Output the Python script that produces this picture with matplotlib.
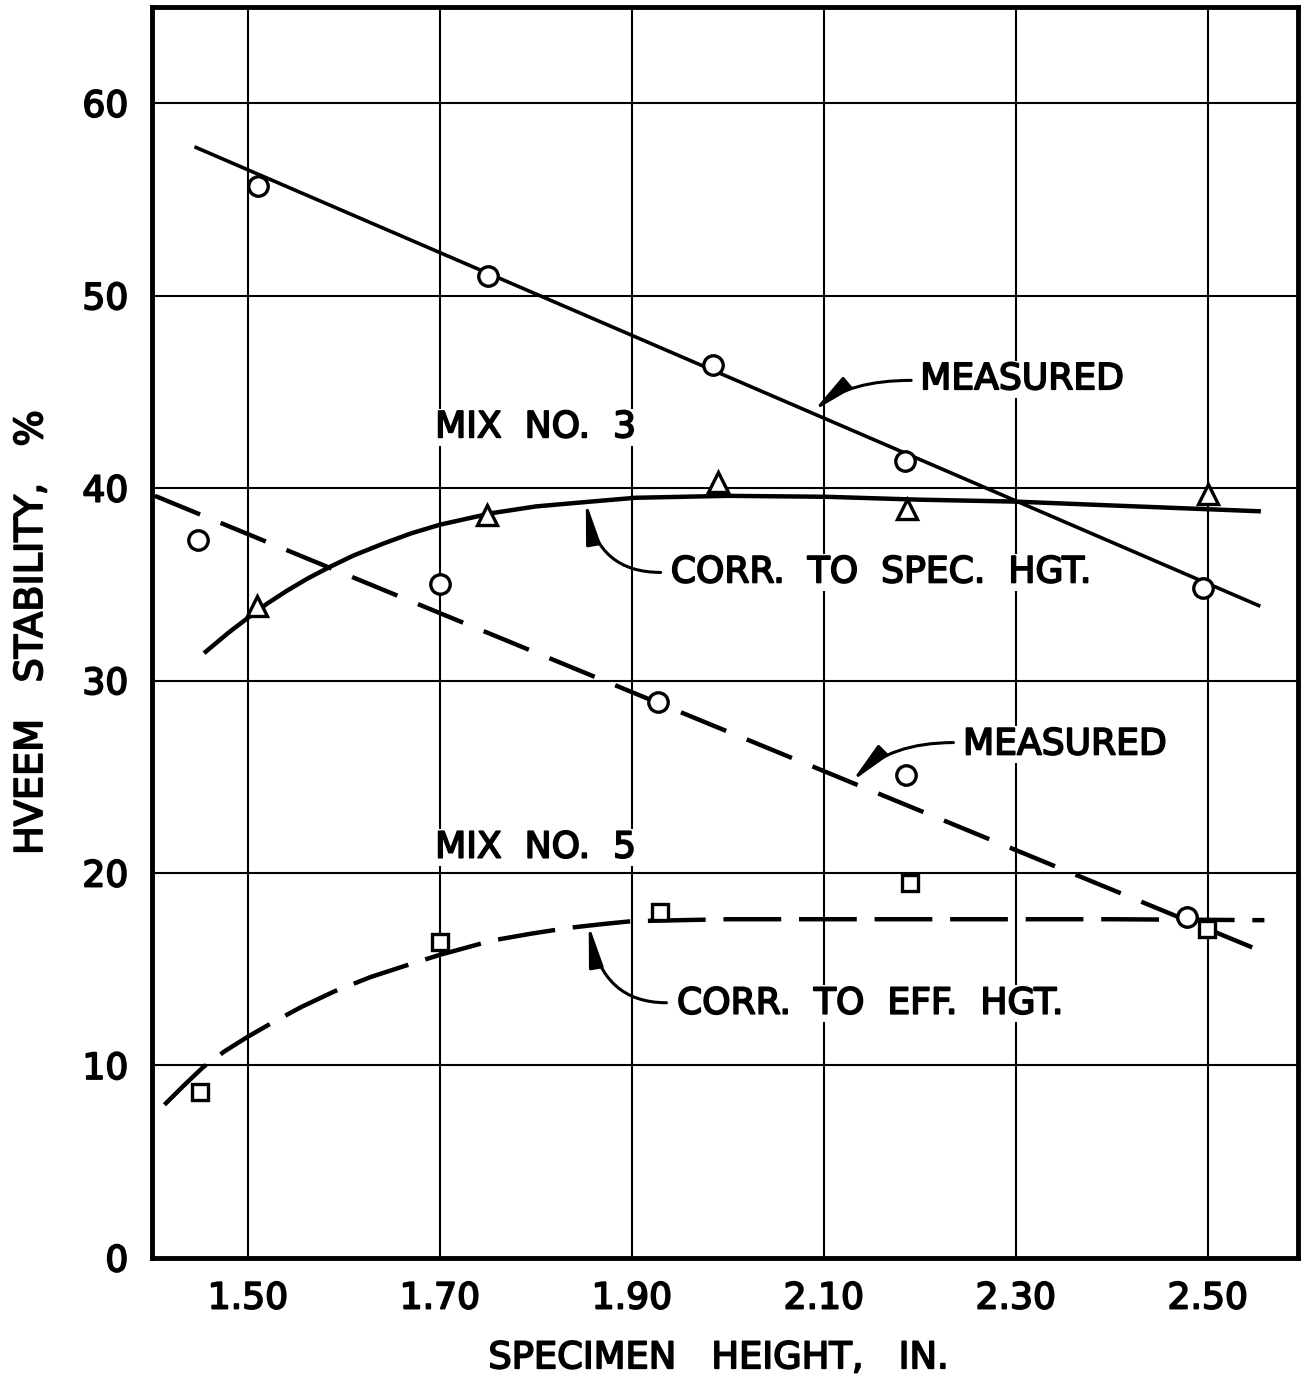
import matplotlib
matplotlib.use("Agg")
import matplotlib.pyplot as plt
import matplotlib.patheffects as pe

# Mix No. 3 -- measured stability (open circles) and its fitted straight line
mix3_meas_x = [1.510, 1.750, 1.985, 2.185, 2.495]
mix3_meas_y = [55.7, 51.0, 46.4, 41.4, 34.8]
mix3_meas_line_x = [1.446, 2.553]
mix3_meas_line_y = [57.7, 33.9]

# Mix No. 3 -- corrected to specimen height (triangles) and the drawn curve
mix3_corr_x = [1.509, 1.749, 1.990, 2.187, 2.500]
mix3_corr_y = [33.9, 38.6, 40.3, 38.9, 39.7]
mix3_curve_x = [1.456, 1.480, 1.501, 1.520, 1.540, 1.562, 1.585, 1.610, 1.640,
                1.670, 1.700, 1.727, 1.754, 1.800, 1.857, 1.904, 2.000,
                2.103, 2.200, 2.300, 2.400, 2.553]
mix3_curve_y = [31.5, 32.5, 33.3, 34.0, 34.65, 35.3, 35.9, 36.5, 37.1,
                37.65, 38.1, 38.4, 38.7, 39.05, 39.3, 39.5, 39.6,
                39.55, 39.4, 39.3, 39.1, 38.8]

# Mix No. 5 -- measured stability (open circles) and its dashed line
mix5_meas_x = [1.448, 1.700, 1.927, 2.186, 2.478]
mix5_meas_y = [37.3, 35.0, 28.9, 25.1, 17.7]
mix5_meas_line_x = [1.403, 2.553]
mix5_meas_line_y = [39.6, 16.0]

# Mix No. 5 -- corrected to effective height (squares) and the dashed curve
mix5_corr_x = [1.450, 1.700, 1.929, 2.190, 2.499]
mix5_corr_y = [8.6, 16.4, 17.95, 19.5, 17.1]
mix5_curve_x = [1.413, 1.433, 1.453, 1.476, 1.500, 1.528, 1.556, 1.590, 1.628,
                1.665, 1.700, 1.755, 1.795, 1.834, 1.870, 1.900, 2.000,
                2.200, 2.400, 2.559]
mix5_curve_y = [7.96, 8.95, 9.9, 10.75, 11.5, 12.3, 13.05, 13.85, 14.6,
                15.2, 15.75, 16.5, 16.85, 17.15, 17.35, 17.5, 17.6,
                17.6, 17.6, 17.55]

x_ticks = [1.50, 1.70, 1.90, 2.10, 2.30, 2.50]
x_tick_labels = ["1.50", "1.70", "1.90", "2.10", "2.30", "2.50"]
y_ticks = [0, 10, 20, 30, 40, 50, 60]

plt.rcParams['font.family'] = 'DejaVu Sans'
plt.rcParams['font.size'] = 26

# thicken the lettering a little, like the drafted originals
heavy = [pe.withStroke(linewidth=1.3, foreground='black')]

fig = plt.figure(figsize=(13.09, 13.76), dpi=100)
ax = fig.add_axes([0.1161, 0.0858, 0.8755, 0.9091])

ax.set_xlim(1.40, 2.594)
ax.set_ylim(0, 65)

ax.set_xticks(x_ticks)
ax.set_xticklabels(x_tick_labels)
ax.set_yticks(y_ticks)
ax.tick_params(length=0, pad=17, labelsize=26)
for lab in ax.get_xticklabels() + ax.get_yticklabels():
    lab.set_path_effects(heavy)

ax.set_axisbelow(True)
ax.grid(True, color='black', lw=1.5)
for s in ax.spines.values():
    s.set_linewidth(3.5)

# data lines
ax.plot(mix3_meas_line_x, mix3_meas_line_y, color='black', lw=2.6, zorder=3)
ax.plot(mix3_curve_x, mix3_curve_y, color='black', lw=3.2, zorder=3)
ax.plot(mix5_meas_line_x, mix5_meas_line_y, color='black', lw=3.2,
        dashes=(11, 5), zorder=3)
ax.plot(mix5_curve_x, mix5_curve_y, color='black', lw=3.2,
        dashes=(13, 4), zorder=3)

# points
mk = dict(color='black', mfc='white', mew=2.4, ls='none', zorder=4)
ax.plot(mix3_meas_x, mix3_meas_y, marker='o', ms=14, **mk)
ax.plot(mix3_corr_x, mix3_corr_y, marker='^', ms=15, **mk)
ax.plot(mix5_meas_x, mix5_meas_y, marker='o', ms=14, **mk)
ax.plot(mix5_corr_x, mix5_corr_y, marker='s', ms=11, **mk)

# labels inside the plot
box = dict(facecolor='white', edgecolor='none', pad=1)
labels = [
    (2.2004, 45.66, "MEASURED"),
    (1.695, 43.16, "MIX  NO.  3"),
    (1.9405, 35.62, "CORR.  TO  SPEC.  HGT."),
    (2.245, 26.68, "MEASURED"),
    (1.695, 21.32, "MIX  NO.  5"),
    (1.947, 13.21, "CORR.  TO  EFF.  HGT."),
]
for lx, ly, s in labels:
    ax.text(lx, ly, s, ha='left', va='center', bbox=box, zorder=5,
            path_effects=heavy)

# curved leaders
def leader(tip, start, angle):
    ax.annotate("", xy=tip, xytext=start,
                arrowprops=dict(arrowstyle='-|>,head_length=1.0,head_width=0.17',
                                mutation_scale=25, lw=2.2, color='black',
                                shrinkA=0, shrinkB=0,
                                connectionstyle=f"angle3,angleA=0,angleB={angle}"),
                zorder=5)

leader((2.089, 44.0), (2.191, 45.6), 40)
leader((1.852, 39.3), (1.930, 35.62), -80)
leader((2.129, 24.75), (2.235, 26.78), 45)
leader((1.855, 17.32), (1.936, 13.26), -80)

ax.set_xlabel("SPECIMEN   HEIGHT,   IN.", fontsize=26.5, path_effects=heavy)
ax.set_ylabel("HVEEM   STABILITY,   %", fontsize=27.5, path_effects=heavy)
ax.xaxis.set_label_coords(0.494, -0.065)
ax.yaxis.set_label_coords(-0.089, 0.5)

fig.savefig("out.png", dpi=100)
